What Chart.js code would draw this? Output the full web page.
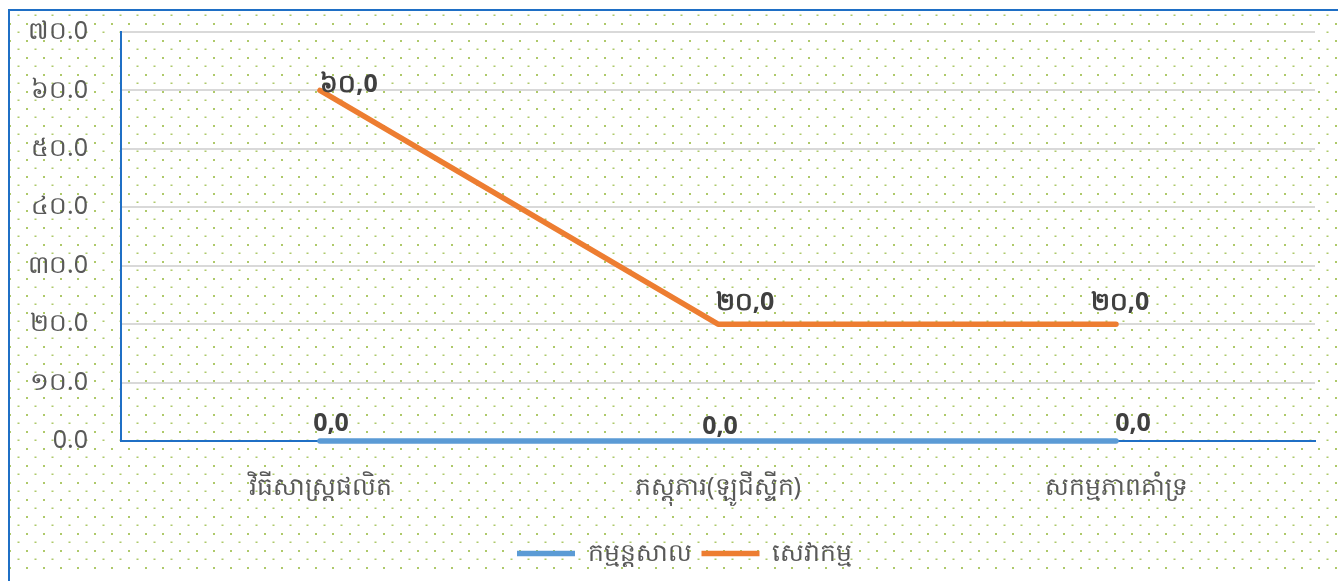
<!DOCTYPE html>
<html>
<head>
<meta charset="utf-8">
<script src="https://cdn.jsdelivr.net/npm/chart.js@4/dist/chart.umd.min.js"></script>
<style>
  html, body { margin: 0; padding: 0; background: #ffffff; width: 1338px; height: 581px; overflow: hidden; }
  #frame { position: absolute; left: 8px; top: 9px; width: 1330px; height: 572px;
           border-top: 2px solid #1f6fc5; border-left: 2px solid #1f6fc5; box-sizing: border-box; }
  #wrap { position: absolute; left: 0; top: 0; width: 1328px; height: 570px; }
</style>
</head>
<body>
<div id="frame"><div id="wrap"><canvas id="c"></canvas></div></div>
<script>
// ---- data ----
const categories = ['វិធីសាស្រ្តផលិត', 'ភស្តុភារ(ឡូជីស្ទីក)', 'សកម្មភាពគាំទ្រ'];
const seriesNames = ['កម្មន្តសាល', 'សេវាកម្ម'];
const manufacturingValues = [0, 0, 0];
const serviceValues = [60, 20, 20];
const manufacturingLabels = ['0,0', '0,0', '0,0'];
const serviceLabels = ['៦០,0', '២០,0', '២០,0'];
const yTickLabels = ['0.0', '១០.0', '២០.0', '៣០.0', '៤០.0', '៥០.0', '៦០.0', '៧០.0'];

const FONT = "'Noto Sans', 'DejaVu Sans', sans-serif";

// label offsets (style only) relative to each point
const labelOffsets = [
  [[11, -17], [2, -14], [17, -17]],
  [[29, -6], [27, -21], [4, -21]]
];
const labelTexts = [manufacturingLabels, serviceLabels];

const bgPlugin = {
  id: 'bg',
  beforeDraw(chart) {
    const ctx = chart.ctx;
    const w = chart.width, h = chart.height;
    ctx.save();
    ctx.fillStyle = '#ffffff';
    ctx.fillRect(0, 0, w, h);
    ctx.fillStyle = 'rgba(160,192,80,0.85)';
    for (let y = 12 - 17; y < h; y += 17) {
      for (let x = 16 - 17; x < w; x += 17) {
        ctx.fillRect(x, y, 2, 2);
        ctx.fillRect(x - 8.5, y - 8.5, 2, 1.5);
      }
    }
    ctx.restore();
  }
};

// nudge legend box to the right (style only)
const legendShift = {
  id: 'legendShift',
  afterLayout(chart) {
    if (chart.legend) { chart.legend.left += 44; }
  }
};

const labelPlugin = {
  id: 'valueLabels',
  afterDatasetsDraw(chart) {
    const ctx = chart.ctx;
    ctx.save();
    ctx.font = 'bold 25px ' + FONT;
    ctx.fillStyle = '#404040';
    ctx.textAlign = 'center';
    ctx.textBaseline = 'middle';
    chart.data.datasets.forEach((ds, di) => {
      const meta = chart.getDatasetMeta(di);
      meta.data.forEach((pt, i) => {
        const off = labelOffsets[di][i];
        ctx.fillText(labelTexts[di][i], pt.x + off[0], pt.y + off[1]);
      });
    });
    ctx.restore();
  }
};

new Chart(document.getElementById('c'), {
  type: 'line',
  data: {
    labels: categories,
    datasets: [
      { label: seriesNames[0], data: manufacturingValues, borderColor: '#5b9bd5', backgroundColor: '#5b9bd5',
        borderWidth: 5.5, pointRadius: 0, tension: 0, borderCapStyle: 'round', borderJoinStyle: 'round', clip: false },
      { label: seriesNames[1], data: serviceValues, borderColor: '#ed7d31', backgroundColor: '#ed7d31',
        borderWidth: 5.5, pointRadius: 0, tension: 0, borderCapStyle: 'round', borderJoinStyle: 'round', clip: false }
    ]
  },
  options: {
    responsive: true,
    maintainAspectRatio: false,
    animation: false,
    layout: { padding: { left: 0, right: 23, top: 21, bottom: 5 } },
    plugins: {
      legend: {
        position: 'bottom',
        labels: {
          usePointStyle: true,
          pointStyle: 'line',
          pointStyleWidth: 58,
          font: { size: 25, family: FONT },
          color: '#595959',
          padding: 10
        }
      },
      tooltip: { enabled: false }
    },
    scales: {
      x: {
        offset: true,
        grid: { display: false, drawTicks: false },
        border: { display: true, color: '#1f6fc5', width: 2 },
        ticks: { color: '#595959', font: { size: 25, family: FONT }, padding: 32, maxRotation: 0 },
        afterFit(scale) { scale.height = 90; scale.paddingLeft = 0; scale.paddingRight = 0; }
      },
      y: {
        min: 0, max: 70,
        ticks: {
          stepSize: 10,
          color: '#595959',
          font: { size: 25, family: FONT },
          padding: 33,
          callback: (v) => yTickLabels[Math.round(v / 10)]
        },
        grid: { color: '#d9d9d9', lineWidth: 2, drawTicks: false },
        border: { display: true, color: '#1f6fc5', width: 2 },
        afterFit(scale) { scale.width = 111; scale.paddingTop = 0; scale.paddingBottom = 0; }
      }
    }
  },
  plugins: [bgPlugin, legendShift, labelPlugin]
});
</script>
</body>
</html>
